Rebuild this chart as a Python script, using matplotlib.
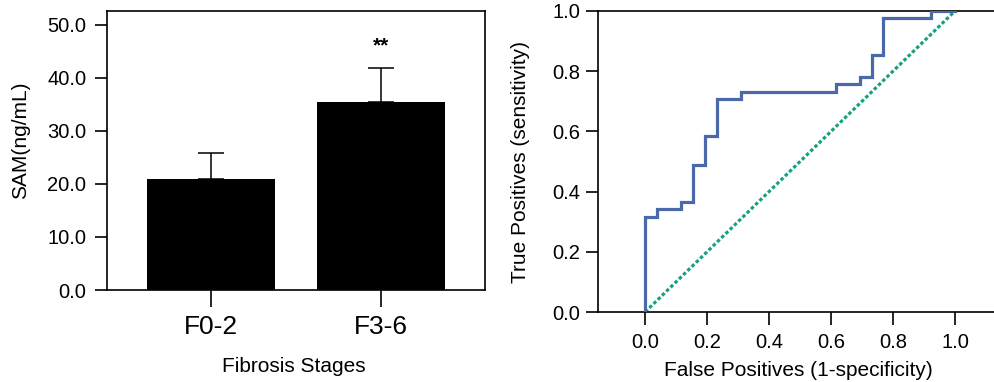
import matplotlib
matplotlib.use("Agg")
import matplotlib.pyplot as plt
import numpy as np

plt.rcParams['font.family'] = ['Liberation Sans', 'DejaVu Sans']

# Bar chart data
categories = ["F0-2", "F3-6"]
sam_means = [21.0, 35.5]
sam_err = [4.9, 6.3]

# ROC curve data (step corners)
roc_fpr = [0.0, 0.0, 0.038, 0.038, 0.115, 0.115, 0.154, 0.154, 0.192, 0.192,
           0.231, 0.231, 0.308, 0.308, 0.615, 0.615, 0.692, 0.692, 0.731, 0.731,
           0.769, 0.769, 0.923, 0.923, 1.0]
roc_tpr = [0.0, 0.317, 0.317, 0.341, 0.341, 0.366, 0.366, 0.488, 0.488, 0.585,
           0.585, 0.707, 0.707, 0.732, 0.732, 0.756, 0.756, 0.780, 0.780, 0.854,
           0.854, 0.976, 0.976, 1.0, 1.0]
ref_x = [0.0, 1.0]
ref_y = [0.0, 1.0]

W, H = 994, 382
fig = plt.figure(figsize=(W / 100, H / 100), dpi=100)

def box(l, t, r, b):
    return [l / W, 1 - b / H, (r - l) / W, (b - t) / H]

def px_to_axes(ax, px, py):
    inv = ax.transAxes.inverted()
    return inv.transform((px, H - py))

# ---------- Left: bar chart ----------
ax1 = fig.add_axes(box(107, 11, 485, 290))
x = np.arange(len(categories))
ax1.bar(x, sam_means, width=0.75, color='black', zorder=2)
ax1.errorbar(x, sam_means, yerr=[np.zeros(len(sam_err)), sam_err], fmt='none',
             ecolor='black', elinewidth=1.1, capsize=9.5, capthick=1.1, zorder=1)
ax1.text(1, 46.0, "**", ha='center', va='center', fontsize=15, fontweight='bold')
ax1.set_xlim(-0.61, 1.61)
ax1.set_ylim(0, 52.6)
yt = [0, 10, 20, 30, 40, 50]
ax1.set_yticks(yt)
ax1.set_yticklabels([f"{v:.1f}" for v in yt], fontsize=14.5)
ax1.set_xticks(x)
ax1.set_xticklabels(categories, fontsize=19)
ax1.tick_params(axis='y', length=9, width=1.2, pad=6)
ax1.tick_params(axis='x', length=12, width=1.2, pad=6)
ax1.set_ylabel("SAM(ng/mL)", fontsize=15)
ax1.set_xlabel("Fibrosis Stages", fontsize=15)
for s in ax1.spines.values():
    s.set_linewidth(1.2)

# ---------- Right: ROC ----------
ax2 = fig.add_axes(box(598, 11, 994, 312))
ax2.plot(roc_fpr, roc_tpr, color='#4a69a8', lw=2.3, solid_joinstyle='miter', zorder=3)
ax2.plot(ref_x, ref_y, color='#17a080', lw=2.3, linestyle=(0, (1.1, 0.75)), zorder=2)
ax2.set_xlim(-0.152, 1.126)
ax2.set_ylim(0, 1.0)
ticks = [0.0, 0.2, 0.4, 0.6, 0.8, 1.0]
ax2.set_xticks(ticks)
ax2.set_xticklabels([f"{v:.1f}" for v in ticks], fontsize=14.5)
ax2.set_yticks(ticks)
ax2.set_yticklabels([f"{v:.1f}" for v in ticks], fontsize=14.5)
ax2.tick_params(axis='y', length=9, width=1.2, pad=4)
ax2.tick_params(axis='x', length=9, width=1.2, pad=6)
ax2.spines['right'].set_visible(False)
for s in ['left', 'top', 'bottom']:
    ax2.spines[s].set_linewidth(1.2)
ax2.set_xlabel("False Positives (1-specificity)", fontsize=15)
ax2.set_ylabel("True Positives (sensitivity)", fontsize=15)

# label placement (centres measured in pixels)
ax1.yaxis.set_label_coords(*px_to_axes(ax1, 21, 140))
ax1.xaxis.set_label_coords(*px_to_axes(ax1, 294, 366))
ax2.yaxis.set_label_coords(*px_to_axes(ax2, 521, 162))
ax2.xaxis.set_label_coords(*px_to_axes(ax2, 798, 371))
for lab in (ax1.xaxis.label, ax2.xaxis.label, ax1.yaxis.label, ax2.yaxis.label):
    lab.set_va('center')

fig.savefig("out.png", dpi=100)
